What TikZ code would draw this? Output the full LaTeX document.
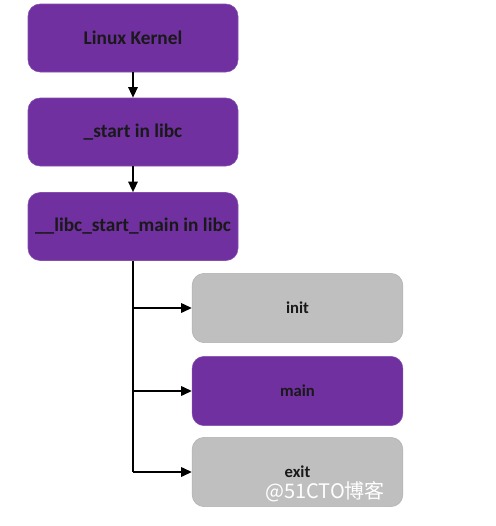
\documentclass[tikz,border=0pt]{standalone}
\usepackage{fontspec}
\setmainfont{Carlito}
\newfontfamily\cjk{Noto Sans CJK SC}
\usetikzlibrary{arrows.meta}
\definecolor{purp}{HTML}{7030A0}
\definecolor{greybox}{HTML}{BFBFBF}
\definecolor{greyline}{HTML}{B0B0B0}
\begin{document}
\begin{tikzpicture}[x=0.75pt,y=-0.75pt,
  pbox/.style={draw=purp!85!white, fill=purp, rounded corners=9pt, minimum width=157.5pt, minimum height=51pt, font=\bfseries\fontsize{14.5}{16}\selectfont, text=black!90, inner sep=0pt},
  gbox/.style={draw=greyline, fill=greybox, rounded corners=9pt, minimum width=158pt, minimum height=52pt, font=\bfseries\fontsize{12.5}{14}\selectfont, text=black!90, inner sep=0pt},
  mbox/.style={gbox, draw=purp!85!white, fill=purp},
  conn/.style={line width=1.5pt, -{Triangle[length=8pt,width=7pt]}}]
\useasboundingbox (0,0) rectangle (496,526);
\node[pbox] (k) at (133,38) {Linux Kernel};
\node[pbox] (s) at (133,132) {\_start in libc};
\node[pbox] (l) at (133,226.5) {\_\_libc\_start\_main in libc};
\node[gbox] (i) at (297.5,308) {init};
\node[mbox] (m) at (297.5,391) {main};
\node[gbox] (e) at (297.5,472) {exit};
\node[font=\cjk\fontsize{15}{17}\selectfont, text=white, draw=none] (w) at (325,492) {@51CTO博客};
\coordinate (ci) at (133,308);
\coordinate (cm) at (133,391);
\coordinate (ce) at (133,472);
\draw[conn] (k) -- (s);
\draw[conn] (s) -- (l);
\draw[line width=1.5pt] (l.south) -- (ce);
\draw[conn] (ci) -- (i.west);
\draw[conn] (cm) -- (m.west);
\draw[conn] (ce) -- (e.west);
\end{tikzpicture}
\end{document}
